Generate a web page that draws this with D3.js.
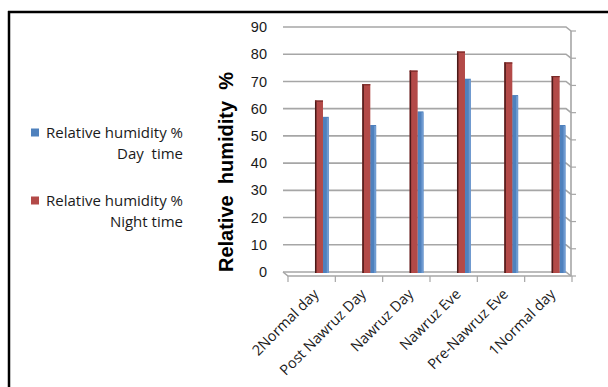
<!DOCTYPE html>
<html><head><meta charset="utf-8">
<script src="https://cdn.jsdelivr.net/npm/d3@7"></script>
<style>
html,body{margin:0;padding:0;background:#fff;}
svg{display:block;}
</style></head>
<body>
<svg id="c" width="608" height="387"></svg>
<script>
const categories = ["2Normal day","Post Nawruz Day","Nawruz Day","Nawruz Eve","Pre-Nawruz Eve","1Normal day"];
const dayValues = [57, 54, 59, 71, 65, 54];
const nightValues = [63, 69, 74, 81, 77, 72];
const yTicks = [0,10,20,30,40,50,60,70,80,90];
const seriesNames = [["Relative humidity %","Day  time"],["Relative humidity %","Night time"]];
const colors = {day:"#4F81BD", dayLight:"#6F9BD1", night:"#B34A48", nightDark:"#4A1918"};

const svg = d3.select("#c");
// frame
svg.append("line").attr("x1",8).attr("x2",608).attr("y1",12).attr("y2",12).attr("stroke","#000").attr("stroke-width",2.5);
svg.append("line").attr("x1",9).attr("x2",9).attr("y1",11).attr("y2",387).attr("stroke","#000").attr("stroke-width",2.5);

const y = d3.scaleLinear().domain([0,90]).range([272,27]);
const x = d3.scaleBand().domain(categories).range([288,572]).padding(0);
const dx = 5, dy = 4; // 3D offset
const backL = 283, backR = 566;

// back wall gridlines
const g = svg.append("g");
yTicks.forEach(t=>{
  g.append("path").attr("d",`M${backL},${y(t)}L${backR},${y(t)}L${backR+dx},${y(t)+dy}`)
   .attr("fill","none").attr("stroke","#A6A6A6").attr("stroke-width",1.6);
  g.append("line").attr("x1",backR+dx).attr("x2",backR+dx+5).attr("y1",y(t)+dy).attr("y2",y(t)+dy)
   .attr("stroke","#A6A6A6").attr("stroke-width",1.2);
});
g.append("line").attr("x1",backR+dx).attr("x2",backR+dx).attr("y1",y(90)+dy).attr("y2",y(0)+dy)
 .attr("stroke","#A6A6A6").attr("stroke-width",1.6);
// floor
g.append("path").attr("d",`M${backL},${y(0)}L${backL+dx},${y(0)+dy}L${backR+dx},${y(0)+dy}`)
 .attr("fill","none").attr("stroke","#A6A6A6").attr("stroke-width",1.6);
// category ticks
const tickXs = categories.map(c=>x(c)).concat([x.range()[1]]);
tickXs.forEach(tx=>{
  g.append("line").attr("x1",tx).attr("x2",tx).attr("y1",y(0)+dy).attr("y2",y(0)+dy+6)
   .attr("stroke","#A6A6A6").attr("stroke-width",1.2);
});

// y tick labels
svg.append("g").selectAll("text").data(yTicks).join("text")
  .attr("x",267).attr("y",d=>y(d)).attr("dy","0.35em").attr("text-anchor","end")
  .attr("font-family","Liberation Sans, Arial, sans-serif").attr("font-size",14.5).attr("fill","#1a1a1a")
  .text(d=>d);

// y title
svg.append("text").attr("transform","translate(233,172) rotate(-90)")
  .attr("text-anchor","middle").attr("font-family","Liberation Sans, Arial, sans-serif")
  .attr("font-size",20).attr("font-weight","bold").attr("fill","#000")
  .style("white-space","pre").text("Relative  humidity  %");

// bars
const bw = x.bandwidth();
const bars = svg.append("g");
categories.forEach((c,i)=>{
  const bx = x(c);
  const bxs = bx + bw*0.735;
  bars.append("rect").attr("x",bxs).attr("y",y(dayValues[i])).attr("width",6).attr("height",y(0)-y(dayValues[i])+1)
    .attr("fill",colors.day);
  bars.append("rect").attr("x",bxs+4).attr("y",y(dayValues[i])+1).attr("width",2).attr("height",y(0)-y(dayValues[i]))
    .attr("fill",colors.dayLight);
  const rx = bx + bw*0.57;
  bars.append("rect").attr("x",rx).attr("y",y(nightValues[i])).attr("width",8).attr("height",y(0)-y(nightValues[i])+1)
    .attr("fill",colors.night);
  bars.append("rect").attr("x",rx).attr("y",y(nightValues[i])).attr("width",1.5).attr("height",y(0)-y(nightValues[i])+1)
    .attr("fill",colors.nightDark);
  bars.append("rect").attr("x",rx).attr("y",y(nightValues[i])).attr("width",8).attr("height",1.2)
    .attr("fill","#7a2a28");
});

// x labels
svg.append("g").selectAll("text").data(categories).join("text")
  .attr("transform",d=>`translate(${x(d)+bw/2+8},${y(0)+dy+19}) rotate(-45)`)
  .attr("text-anchor","end").attr("font-family","Open Sans, sans-serif").attr("font-size",14.5).attr("fill","#1a1a1a")
  .text(d=>d);

// legend
const leg = svg.append("g");
const legY = [133, 201];
[colors.day, colors.night].forEach((col,i)=>{
  leg.append("rect").attr("x",31).attr("y",legY[i]-4.5).attr("width",8).attr("height",8).attr("fill",col);
  leg.append("text").attr("x",183).attr("y",legY[i]).attr("dy","0.35em").attr("text-anchor","end")
    .attr("font-family","Open Sans, sans-serif").attr("font-size",15).attr("fill","#1a1a1a").text(seriesNames[i][0]);
  leg.append("text").attr("x",183).attr("y",legY[i]+21).attr("dy","0.35em").attr("text-anchor","end")
    .attr("font-family","Open Sans, sans-serif").attr("font-size",15).attr("fill","#1a1a1a")
    .style("white-space","pre").text(seriesNames[i][1]);
});
</script>
</body></html>
